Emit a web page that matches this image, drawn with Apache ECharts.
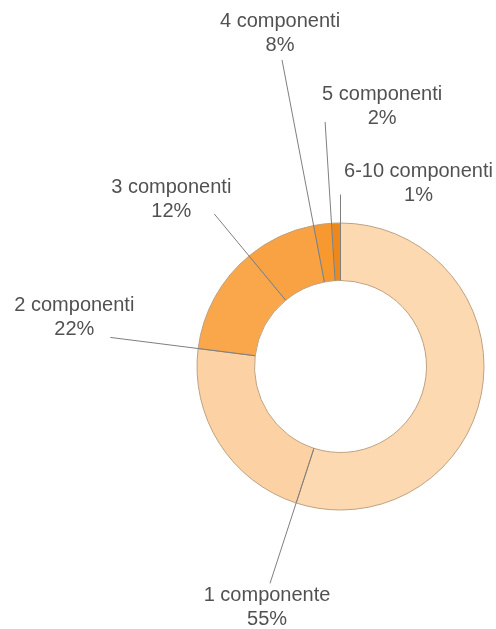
<!DOCTYPE html>
<html>
<head>
<meta charset="utf-8">
<style>
  html, body { margin: 0; padding: 0; background: #ffffff; }
  #chart { width: 496px; height: 629px; }
</style>
<script src="https://cdn.jsdelivr.net/npm/echarts@6/dist/echarts.min.js"></script>
</head>
<body>
<div id="chart"></div>
<script>
// Household size distribution (share of households, %)
const categories = ['1 componente', '2 componenti', '3 componenti', '4 componenti', '5 componenti', '6-10 componenti'];
const shares = [55, 22, 12, 8, 2, 1];

// Styling / layout
const sliceColors = ['#fdd9b1', '#fcd2a4', '#f9a74a', '#f8a243', '#f7992f', '#ee8818'];
const ringCenter = [340.5, 366.5];
const innerRadius = 86;
const outerRadius = 143.5;
const polarExtent = 330;
// distance from the centre where each leader line ends (px)
const leaderReach = [228, 232, 198, 312, 245, 172];
// label block centre relative to the end of its leader line (px)
const labelOffsets = [[-3, 24], [-36, -20], [-43, -14], [-2, -27], [57, -15], [78, -11]];

// leader lines sit on the closing edge of each slice
const closingEdge = [];
shares.reduce((acc, v, i) => { closingEdge[i] = acc + v; return acc + v; }, 0);
const total = closingEdge[closingEdge.length - 1];

const textStyle = {
  fontFamily: '"Liberation Sans", Arial, sans-serif',
  fontSize: 20,
  lineHeight: 24,
  color: '#262626'
};

const leaderSeries = categories.map((name, i) => ({
  type: 'line',
  coordinateSystem: 'polar',
  silent: true,
  symbol: 'none',
  z: 5,
  lineStyle: { color: '#7f7f7f', width: 1 },
  data: [[innerRadius, closingEdge[i]], [leaderReach[i], closingEdge[i]]]
}));

const option = {
  animation: false,
  backgroundColor: '#ffffff',
  polar: { center: ringCenter, radius: polarExtent },
  angleAxis: { type: 'value', min: 0, max: total, startAngle: 90, clockwise: true, show: false },
  radiusAxis: { type: 'value', min: 0, max: polarExtent, show: false },
  series: [
    {
      type: 'pie',
      center: ringCenter,
      radius: [innerRadius, outerRadius],
      startAngle: 90,
      clockwise: true,
      silent: true,
      label: { show: false },
      labelLine: { show: false },
      itemStyle: { borderColor: '#bfa282', borderWidth: 1 },
      data: categories.map((name, i) => ({
        name,
        value: shares[i],
        itemStyle: { color: sliceColors[i] }
      }))
    },
    ...leaderSeries,
    {
      type: 'scatter',
      coordinateSystem: 'polar',
      silent: true,
      symbolSize: 1,
      z: 6,
      itemStyle: { color: 'rgba(0,0,0,0)' },
      data: categories.map((name, i) => ({
        value: [leaderReach[i], closingEdge[i]],
        label: {
          show: true,
          position: 'inside',
          offset: labelOffsets[i],
          align: 'center',
          verticalAlign: 'middle',
          formatter: name + '\n' + shares[i] + '%',
          ...textStyle
        }
      }))
    }
  ]
};

const chart = echarts.init(document.getElementById('chart'), null, { renderer: 'canvas' });
chart.setOption(option);
</script>
</body>
</html>
